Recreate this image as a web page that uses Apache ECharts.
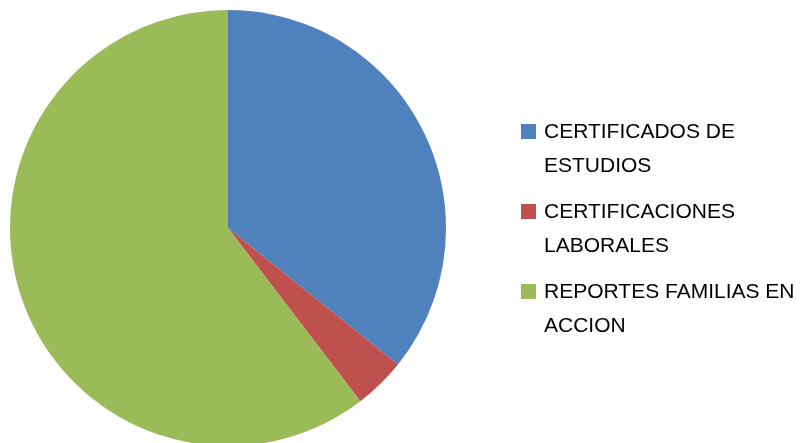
<!DOCTYPE html>
<html>
<head>
<meta charset="utf-8">
<script src="https://cdn.jsdelivr.net/npm/echarts@6/dist/echarts.min.js"></script>
<style>
  html, body { margin: 0; padding: 0; background: #fff; }
  #chart { width: 802px; height: 443px; }
</style>
</head>
<body>
<div id="chart"></div>
<script>
// Tres categorías de trámites, proporciones
const CATEGORIES = [
  'CERTIFICADOS DE\nESTUDIOS',
  'CERTIFICACIONES\nLABORALES',
  'REPORTES FAMILIAS EN\nACCION',
];
const VALUES = [93, 10, 157];
const COLORS = ['#4F81BD', '#C0504D', '#9BBB59'];

const chart = echarts.init(document.getElementById('chart'), null, { renderer: 'canvas' });

chart.setOption({
  animation: false,
  color: COLORS,
  legend: {
    orient: 'vertical',
    left: 521,
    top: 115,
    padding: 0,
    itemGap: 12,
    itemWidth: 15,
    itemHeight: 68,
    // cuadro alineado con la primera línea del texto
    icon: 'path://M0,9h15v15h-15zM0,0h15M0,68h15',
    itemStyle: { borderWidth: 0 },
    textStyle: {
      fontFamily: 'Liberation Sans',
      fontSize: 21,
      lineHeight: 34,
      color: '#000',
      padding: [0, 0, 0, 3],
    },
    data: CATEGORIES,
  },
  series: [{
    type: 'pie',
    center: [228, 228],
    radius: 218,
    startAngle: 90,
    clockwise: true,
    label: { show: false },
    labelLine: { show: false },
    emphasis: { disabled: true },
    itemStyle: { borderWidth: 0 },
    data: CATEGORIES.map((name, i) => ({ name, value: VALUES[i] })),
  }],
});
</script>
</body>
</html>
